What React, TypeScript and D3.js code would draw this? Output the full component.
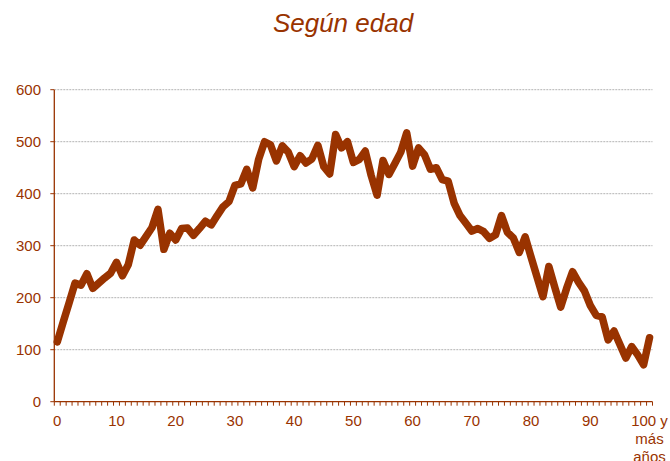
import React from "react";
import * as d3 from "d3";

const title = "Según edad";
const ages: string[] = d3.range(0, 101).map((d) => String(d));
const counts: number[] = [
  115, 153, 190, 228, 224, 246, 218, 228, 238, 247,
  268, 242, 264, 311, 301, 318, 335, 370, 293, 324,
  311, 333, 334, 320, 333, 347, 340, 358, 375, 385,
  416, 419, 447, 411, 466, 500, 494, 463, 492, 480,
  452, 473, 459, 467, 493, 452, 438, 514, 488, 500,
  460, 466, 482, 435, 397, 464, 437, 458, 480, 517,
  453, 488, 475, 447, 450, 427, 424, 382, 358, 343,
  328, 333, 327, 314, 321, 358, 326, 315, 287, 317,
  278, 240, 202, 260, 220, 182, 218, 250, 230, 213,
  185, 166, 163, 119, 136, 110, 84, 106, 90, 71,
  123,
];
const yTicks = [0, 100, 200, 300, 400, 500, 600];
const xLabelEvery = 10;
const lastLabelLines = ["100 y", "más", "años"];

const W = 670;
const H = 461;
const left = 54.3;
const right = 652.5;
const top = 89.7;
const bottom = 401.7;
const brown = "#993300";
const font = "'Liberation Sans', Arial, sans-serif";

export default function App() {
  const x = d3.scaleBand<string>().domain(ages).range([left, right]).padding(0);
  const y = d3.scaleLinear().domain([0, 600]).range([bottom, top]);
  const cx = (a: string) => (x(a) as number) + x.bandwidth() / 2;
  const line = d3
    .line<number>()
    .x((_, i) => cx(ages[i]))
    .y((d) => y(d));
  const tickXs = ages.map((a) => x(a) as number).concat([right]);

  return (
    <svg
      width={W}
      height={H}
      style={{ position: "absolute", left: 0, top: 0, background: "#fff" }}
      fontFamily={font}
    >
      <text
        x={343}
        y={32}
        textAnchor="middle"
        fontSize={26}
        fontStyle="italic"
        fill={brown}
      >
        {title}
      </text>
      {yTicks.map((t) => (
        <g key={t}>
          {t > 0 && (
            <line
              x1={left}
              x2={right}
              y1={y(t)}
              y2={y(t)}
              stroke="#b3b3b3"
              strokeWidth={1}
              strokeDasharray="2,1"
            />
          )}
          <line x1={left - 4} x2={left} y1={y(t)} y2={y(t)} stroke={brown} strokeWidth={1} />
          <text
            x={41}
            y={y(t)}
            dy="0.36em"
            textAnchor="end"
            fontSize={15}
            fill={brown}
          >
            {t}
          </text>
        </g>
      ))}
      <line x1={left} x2={left} y1={top} y2={bottom} stroke={brown} strokeWidth={1.3} />
      <line x1={left} x2={right} y1={bottom} y2={bottom} stroke={brown} strokeWidth={1.3} />
      {tickXs.map((tx, i) => (
        <line key={i} x1={tx} x2={tx} y1={bottom} y2={bottom + 4} stroke={brown} strokeWidth={1} />
      ))}
      {ages.map((a, i) =>
        i % xLabelEvery === 0 ? (
          i === ages.length - 1 ? (
            <text key={a} x={cx(a)} y={426} textAnchor="middle" fontSize={15} fill={brown}>
              {lastLabelLines.map((l, j) => (
                <tspan key={j} x={cx(a)} dy={j === 0 ? 0 : 18}>
                  {l}
                </tspan>
              ))}
            </text>
          ) : (
            <text key={a} x={cx(a)} y={426} textAnchor="middle" fontSize={15} fill={brown}>
              {a}
            </text>
          )
        ) : null
      )}
      <path
        d={line(counts) || ""}
        fill="none"
        stroke={brown}
        strokeWidth={7.5}
        strokeLinejoin="round"
        strokeLinecap="round"
      />
    </svg>
  );
}
